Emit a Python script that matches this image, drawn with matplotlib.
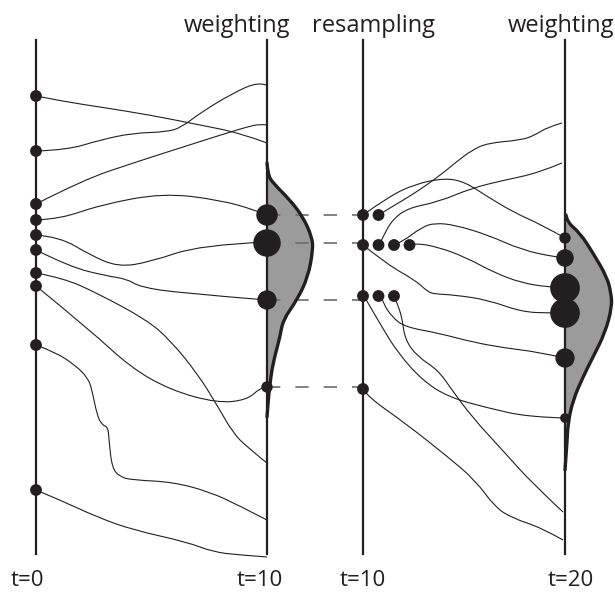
import numpy as np
import matplotlib
matplotlib.use('Agg')
from matplotlib import pyplot as plt
from matplotlib.path import Path
from matplotlib.patches import PathPatch, Circle

# vertical time axes (x in pixel units of the drawing)
axis_x = [36, 267, 363, 565]
axis_top = 40
axis_bottom = 554

top_labels = ['weighting', 'resampling', 'weighting']
top_label_x = [237, 373, 561]
bottom_labels = ['t=0', 't=10', 't=10', 't=20']
bottom_label_x = [27, 260, 363, 571]

# particles at t=0
p0_y = [96, 151, 204, 220, 235, 250, 273, 286, 345, 490]

# weighted particles at t=10 (state, weight)
w10_y = [215, 243, 300, 387]
w10_w = [4.0, 6.8, 3.2, 1.0]

# resampled copies at t=10 (row state, count per weighted particle)
resample_y = [215, 245, 296, 389]
resample_count = [2, 4, 3, 1]

# weighted particles at t=20
w20_y = [238, 258, 288, 313, 358, 418]
w20_w = [1.0, 2.6, 8.0, 8.0, 3.2, 0.7]

# trajectories t=0 -> t=10
paths_a = [
    [(36, 96), (67, 102), (100, 107), (150, 115), (200, 125), (240, 133), (267, 143)],
    [(36, 151), (67, 150), (100, 140), (133, 133), (167, 132), (182, 127), (200, 113),
     (233, 93), (258, 82), (266, 85)],
    [(36, 204), (83, 180), (133, 163), (183, 147), (227, 133), (247, 127), (260, 124), (267, 125)],
    [(36, 220), (60, 219), (100, 205), (163, 193), (220, 200), (255, 210), (267, 215)],
    [(36, 235), (60, 237), (90, 255), (118, 267), (150, 262), (200, 245), (267, 242)],
    [(36, 250), (70, 267), (107, 276), (127, 279), (140, 287), (180, 293), (267, 300)],
    [(36, 273), (63, 278), (97, 293), (147, 320), (170, 340), (197, 373), (217, 405),
     (233, 433), (247, 447), (267, 463)],
    [(36, 286), (90, 330), (130, 367), (170, 390), (217, 403), (247, 400), (260, 388), (266, 387)],
    [(36, 345), (55, 352), (75, 365), (88, 378), (92, 390), (97, 415), (102, 425), (108, 427),
     (109, 440), (112, 468), (120, 477), (133, 480), (173, 482), (210, 492), (240, 506), (267, 520)],
    [(36, 490), (60, 500), (97, 517), (133, 530), (187, 542), (213, 552), (240, 555), (267, 557)],
]

# trajectories resampled t=10 -> t=20
paths_b = [
    [(363, 215), (388, 197), (415, 184), (445, 178), (465, 182), (488, 197), (515, 213),
     (542, 225), (565, 238)],
    [(379, 215), (383, 212), (412, 195), (438, 177), (455, 163), (472, 150), (488, 143),
     (522, 140), (535, 135), (548, 127), (562, 123)],
    [(379, 245), (383, 237), (392, 220), (408, 208), (438, 202), (472, 188), (505, 180),
     (538, 173), (562, 163)],
    [(394, 245), (402, 242), (422, 227), (435, 223), (455, 225), (488, 235), (522, 250),
     (555, 257), (565, 258)],
    [(409, 245), (415, 243), (438, 247), (465, 257), (495, 273), (522, 283), (548, 287), (565, 288)],
    [(363, 245), (388, 265), (415, 280), (428, 292), (435, 294), (455, 295), (488, 300),
     (522, 312), (550, 313), (565, 313)],
    [(364, 296), (368, 303), (382, 327), (398, 353), (422, 380), (448, 397), (488, 408),
     (528, 417), (565, 418)],
    [(381, 296), (383, 303), (392, 317), (405, 327), (438, 333), (472, 342), (505, 348),
     (538, 352), (565, 358)],
    [(394, 296), (397, 303), (402, 317), (405, 340), (418, 357), (438, 370), (452, 390),
     (472, 417), (505, 453), (532, 483), (563, 512)],
    [(363, 389), (368, 397), (405, 423), (448, 457), (475, 480), (495, 507), (512, 518),
     (542, 528), (563, 540)],
]

# likelihood outlines
lik10 = [(267, 163), (268, 175), (273, 183), (290, 200), (303, 217), (312, 237), (313, 250),
         (308, 277), (297, 300), (283, 320), (280, 337), (273, 363), (270, 383), (268, 403),
         (267, 417)]
lik20 = [(566, 215), (567, 222), (580, 233), (593, 253), (607, 277), (611, 293), (612, 307),
         (605, 333), (593, 357), (583, 377), (573, 400), (568, 423), (567, 443), (565, 470)]

INK = '#231f20'
FILL = '#9b9b9b'
DOT_R = 5.2


def smooth(pts):
    # quadratic B-spline through the control points, ends pinned
    pts = [np.asarray(p, float) for p in pts]
    verts = [pts[0]]
    codes = [Path.MOVETO]
    if len(pts) == 2:
        return Path([pts[0], pts[1]], [Path.MOVETO, Path.LINETO])
    for i in range(1, len(pts) - 1):
        end = pts[-1] if i == len(pts) - 2 else (pts[i] + pts[i + 1]) / 2
        verts += [pts[i], end]
        codes += [Path.CURVE3, Path.CURVE3]
    return Path(verts, codes)


def weight_radius(w):
    return 5.0 * np.sqrt(w)


fig = plt.figure(figsize=(6.15, 5.92), dpi=100)
ax = fig.add_axes([0, 0, 1, 1])
ax.set_xlim(0, 615)
ax.set_ylim(592, 0)
ax.axis('off')

# likelihood bumps
for pts, x0 in [(lik10, axis_x[1]), (lik20, axis_x[3])]:
    p = smooth(pts)
    poly = p.interpolated(20).vertices
    fill = np.vstack([poly, [[x0, pts[-1][1]], [x0, pts[0][1]]]])
    ax.fill(fill[:, 0], fill[:, 1], color=FILL, lw=0, zorder=1)
    ax.add_patch(PathPatch(p, fc='none', ec=INK, lw=2.4, zorder=4, capstyle='round'))

# time axes
for x in axis_x:
    ax.plot([x, x], [axis_top, axis_bottom], color=INK, lw=1.6, zorder=2)

# trajectories
for pts in paths_a + paths_b:
    ax.add_patch(PathPatch(smooth(pts), fc='none', ec=INK, lw=0.8, zorder=3))

# dashed links weighting -> resampling
for y in w10_y:
    ax.plot([axis_x[1], axis_x[2]], [y, y], color='#6d6d6d', lw=1.2,
            dashes=(8, 9), dash_capstyle='butt', zorder=2)

# particles
for y in p0_y:
    ax.add_patch(Circle((axis_x[0], y), DOT_R, color=INK, zorder=5))
for y, w in zip(w10_y, w10_w):
    ax.add_patch(Circle((axis_x[1], y), weight_radius(w), color=INK, zorder=5))
for y, n in zip(resample_y, resample_count):
    for k in range(n):
        ax.add_patch(Circle((axis_x[2] + 15.5 * k, y), DOT_R, color=INK, zorder=5))
for y, w in zip(w20_y, w20_w):
    ax.add_patch(Circle((axis_x[3], y), weight_radius(w), color=INK, zorder=5))

# labels
for s, x in zip(top_labels, top_label_x):
    ax.text(x, 32, s, ha='center', va='baseline', fontsize=17,
            family='Open Sans', color=INK)
for s, x in zip(bottom_labels, bottom_label_x):
    ax.text(x, 586, s, ha='center', va='baseline', fontsize=16,
            family='Open Sans', color=INK)

fig.savefig('out.png', dpi=100)
